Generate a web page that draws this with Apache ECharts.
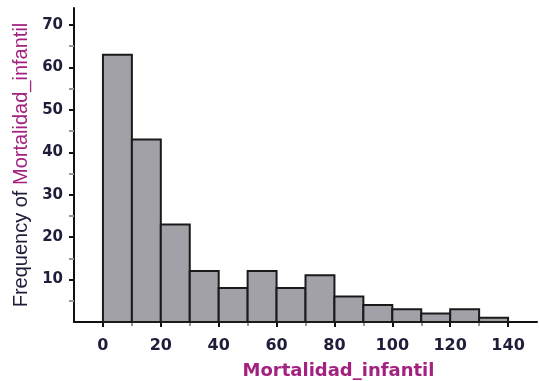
<!DOCTYPE html>
<html>
<head>
<meta charset="utf-8">
<script src="https://cdn.jsdelivr.net/npm/echarts@6/dist/echarts.min.js"></script>
<style>
  html, body { margin: 0; padding: 0; background: #fff; }
  #main { width: 539px; height: 381px; }
</style>
</head>
<body>
<div id="main"></div>
<script>
// histogram bins (width 10) and their counts
var binStarts = [0, 10, 20, 30, 40, 50, 60, 70, 80, 90, 100, 110, 120, 130];
var binWidth = 10;
var counts = [63, 43, 23, 12, 8, 12, 8, 11, 6, 4, 3, 2, 3, 1];

// tick labels and tick marks
var xTicks = [0, 20, 40, 60, 80, 100, 120, 140];
var xMinorTicks = [10, 30, 50, 70, 90, 110, 130];
var yTicks = [10, 20, 30, 40, 50, 60, 70];
var yMinorTicks = [5, 15, 25, 35, 45, 55, 65];

var labelColor = "#1e1e3a";
var magenta = "#a3227f";

var data = [];
for (var i = 0; i < binStarts.length; i++) {
  data.push([binStarts[i], binStarts[i] + binWidth, counts[i]]);
}

// same rectangle for all grids: 0 = main, 1 = major ticks, 2 = minor ticks
function gridBox() {
  return { left: 74, right: 2, top: 8, bottom: 59, outerBoundsMode: "none", containLabel: false };
}

// axes that only draw tick marks
function tickX(gridIndex, values, color, len) {
  return {
    gridIndex: gridIndex, type: "value", min: -10, max: 150,
    splitLine: { show: false },
    axisLine: { show: false, onZero: false },
    axisLabel: { show: false },
    axisTick: { show: true, length: len, customValues: values, lineStyle: { color: color, width: 2 } }
  };
}
function tickY(gridIndex, values, color, len) {
  return {
    gridIndex: gridIndex, type: "value", min: 0, max: 74,
    splitLine: { show: false },
    axisLine: { show: false, onZero: false },
    axisLabel: { show: false },
    axisTick: { show: true, length: len, customValues: values, lineStyle: { color: color, width: 2 } }
  };
}

var chart = echarts.init(document.getElementById("main"));

var option = {
  animation: false,
  grid: [gridBox(), gridBox(), gridBox()],
  xAxis: [
    {
      gridIndex: 0,
      type: "value",
      min: -10,
      max: 150,
      name: "Mortalidad_infantil",
      nameLocation: "middle",
      nameGap: 40,
      nameTextStyle: {
        color: magenta,
        fontFamily: "DejaVu Sans",
        fontWeight: "bold",
        fontSize: 18,
        padding: [0, 0, 0, 66]
      },
      splitLine: { show: false },
      axisLine: { show: true, onZero: false, lineStyle: { color: "#111", width: 2 } },
      axisTick: { show: false },
      axisLabel: {
        customValues: xTicks,
        margin: 16,
        color: labelColor,
        fontFamily: "DejaVu Sans",
        fontWeight: "bold",
        fontSize: 16
      }
    },
    tickX(1, xTicks, "#111", 5),
    tickX(2, xMinorTicks, "#999", 4)
  ],
  yAxis: [
    {
      gridIndex: 0,
      type: "value",
      min: 0,
      max: 74,
      name: "{a|Frequency of }{b|Mortalidad_infantil}",
      nameLocation: "middle",
      nameRotate: 90,
      nameGap: 41,
      nameTextStyle: {
        fontFamily: "Liberation Sans",
        fontSize: 20,
        rich: {
          a: { color: labelColor, fontFamily: "Liberation Sans", fontSize: 20 },
          b: { color: magenta, fontFamily: "Liberation Sans", fontSize: 20 }
        }
      },
      splitLine: { show: false },
      axisLine: { show: true, onZero: false, lineStyle: { color: "#111", width: 2 } },
      axisTick: { show: false },
      axisLabel: {
        customValues: yTicks,
        margin: 11,
        color: labelColor,
        fontFamily: "DejaVu Sans",
        fontWeight: "bold",
        fontSize: 15
      }
    },
    tickY(1, yTicks, "#111", 5),
    tickY(2, yMinorTicks, "#999", 5)
  ],
  series: [
    {
      type: "custom",
      xAxisIndex: 0,
      yAxisIndex: 0,
      data: data,
      renderItem: function (params, api) {
        var p0 = api.coord([api.value(0), 0]);
        var p1 = api.coord([api.value(1), api.value(2)]);
        return {
          type: "rect",
          shape: { x: p0[0], y: p1[1], width: p1[0] - p0[0], height: p0[1] - p1[1] },
          style: { fill: "#a2a1a8", stroke: "#1a1a1a", lineWidth: 2 }
        };
      }
    }
  ]
};

chart.setOption(option);
</script>
</body>
</html>
